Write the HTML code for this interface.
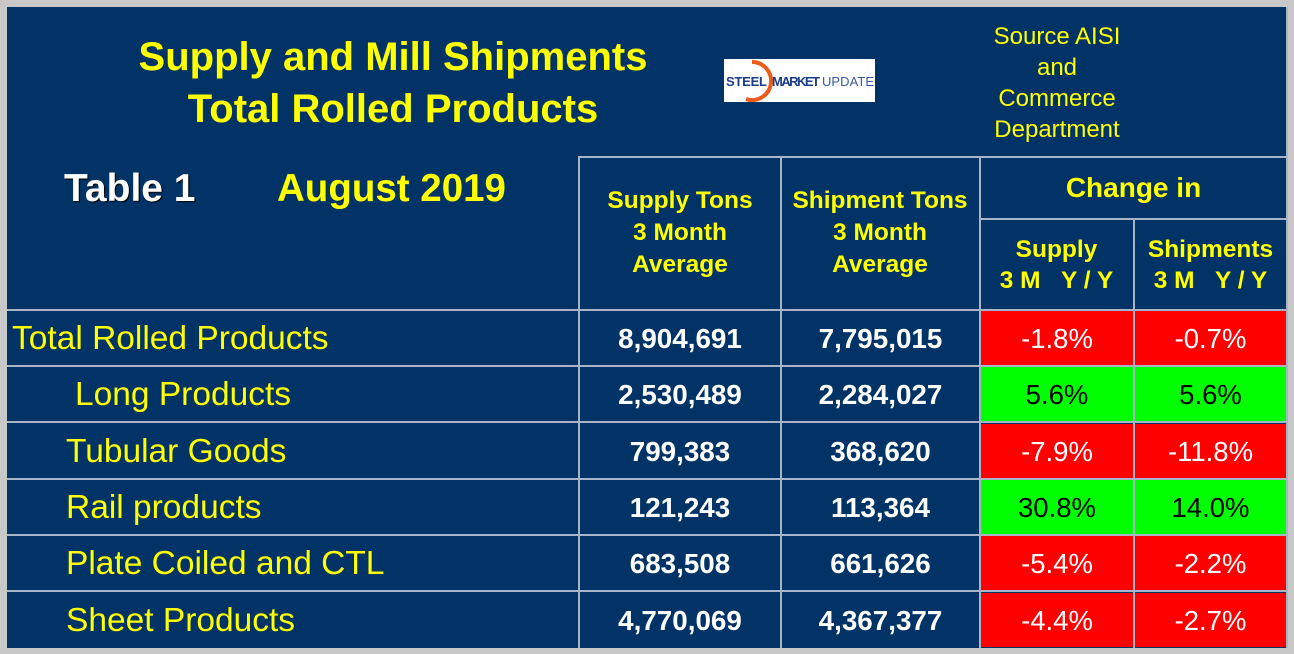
<!DOCTYPE html>
<html><head><meta charset="utf-8"><style>
*{margin:0;padding:0;box-sizing:border-box}
body{width:1294px;height:654px;background:#c8c8c8;position:relative;overflow:hidden;font-family:"Liberation Sans",Arial,sans-serif}
#bg{position:absolute;left:7px;top:7px;width:1281px;height:641px;background:#013366}
.t{position:absolute;color:#ffff00;font-weight:bold;text-align:center;white-space:nowrap}
.h{position:absolute;background:#a8b4c8;height:2px}
.v{position:absolute;background:#a8b4c8;width:2px}
.c{position:absolute;display:flex;align-items:center;justify-content:center;font-size:27.5px;white-space:nowrap}
.lab{position:absolute;color:#ffff00;font-size:33.5px;white-space:nowrap;display:flex;align-items:center}
.num{color:#fff;font-weight:bold;font-size:27.8px}
</style></head><body>
<div id="bg"></div>
<div class="t" style="left:93px;top:31px;width:600px;font-size:40px;line-height:52px">Supply and Mill Shipments<br>Total Rolled Products</div>
<div style="position:absolute;left:724px;top:59px;width:151px;height:43px;background:#fff;overflow:hidden">
<svg width="151" height="43"><path d="M28 3 A19 19 0 1 1 22 40" fill="none" stroke="#ee5a1a" stroke-width="4"/><text x="2" y="27" font-family="Liberation Sans" font-weight="bold" font-size="13" fill="#1b3d8a" textLength="41">STEEL</text><text x="48" y="27" font-family="Liberation Sans" font-weight="bold" font-size="13" fill="#1b3d8a" textLength="48">MARKET</text><text x="98" y="27" font-family="Liberation Sans" font-size="13" fill="#3a5aa0" textLength="52">UPDATE</text></svg></div>
<div class="t" style="left:957px;top:21px;width:200px;font-size:24px;font-weight:normal;line-height:31px">Source AISI<br>and<br>Commerce<br>Department</div>
<div class="t" style="left:64px;top:167px;font-size:39px;color:#fff;text-shadow:1px 1px 1px #000">Table 1</div>
<div class="t" style="left:277px;top:167px;font-size:38.5px">August 2019</div>
<div class="t" style="left:580px;top:185px;width:200px;font-size:24.5px;line-height:32px">Supply Tons<br>3 Month<br>Average</div>
<div class="t" style="left:780px;top:185px;width:200px;font-size:24.5px;line-height:32px">Shipment Tons<br>3 Month<br>Average</div>
<div class="t" style="left:980px;top:172px;width:307px;font-size:28px">Change in</div>
<div class="t" style="left:980px;top:234px;width:153px;font-size:24.5px;line-height:31px">Supply<br>3 M&nbsp;&nbsp;&nbsp;Y / Y</div>
<div class="t" style="left:1134px;top:234px;width:153px;font-size:24.5px;line-height:31px">Shipments<br>3 M&nbsp;&nbsp;&nbsp;Y / Y</div>
<div id="rows"></div>
<div class="h" style="left:578px;top:156px;width:710px"></div>
<div class="h" style="left:979px;top:218px;width:309px"></div>
<div class="h" style="left:7px;top:309px;width:1281px"></div>
<div class="v" style="left:578px;top:156px;height:492px"></div>
<div class="v" style="left:780px;top:156px;height:492px"></div>
<div class="v" style="left:979px;top:156px;height:492px"></div>
<div class="v" style="left:1133px;top:218px;height:430px"></div>
<div class="v" style="left:1286px;top:7px;height:641px"></div>
<script>
const labels=["Total Rolled Products","Long Products","Tubular Goods","Rail products","Plate Coiled and CTL","Sheet Products"];
const indents=[12,75,66,66,66,66];
const supplyTons=["8,904,691","2,530,489","799,383","121,243","683,508","4,770,069"];
const shipTons=["7,795,015","2,284,027","368,620","113,364","661,626","4,367,377"];
const supplyChg=[-1.8,5.6,-7.9,30.8,-5.4,-4.4];
const shipChg=[-0.7,5.6,-11.8,14.0,-2.2,-2.7];
const root=document.getElementById('rows');
function mk(cls,l,t,w,h,txt){const d=document.createElement('div');d.className=cls;d.style.left=l+'px';d.style.top=t+'px';d.style.width=w+'px';d.style.height=h+'px';d.textContent=txt;root.appendChild(d);return d;}
labels.forEach((lab,i)=>{
 const y=311+i*56.3,h=54;
 const a=mk('lab',indents[i],y+1,560,h,lab);
 
 
 const b=mk('c num',580,y+1,200,h,supplyTons[i]);
 
 
 const c=mk('c num',782,y+1,197,h,shipTons[i]);
 
 
 const d=mk('c',981,y,152,h,supplyChg[i].toFixed(1)+'%');
 d.style.background=supplyChg[i]<0?'#ff0000':'#00ff00';
 d.style.color=supplyChg[i]<0?'#fff':'#000';
 d.style.paddingTop='2px';
 
 
 const e=mk('c',1135,y,151,h,shipChg[i].toFixed(1)+'%');
 e.style.background=shipChg[i]<0?'#ff0000':'#00ff00';
 e.style.color=shipChg[i]<0?'#fff':'#000';
 e.style.paddingTop='2px';
 
 
 if(i<5){const l=document.createElement('div');l.className='h';l.style.left='7px';l.style.top=(y+h)+'px';l.style.width='1281px';
 
 
 root.appendChild(l);}
});
</script>
</body></html>
